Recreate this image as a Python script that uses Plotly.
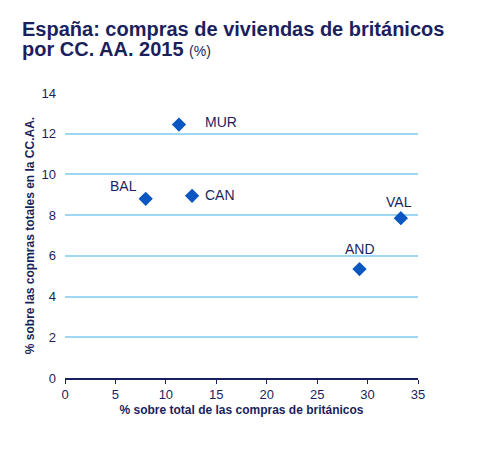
import plotly.graph_objects as go

regions = ["MUR", "BAL", "CAN", "VAL", "AND"]
share_british = [11.3, 8.0, 12.6, 33.3, 29.2]
share_region = [12.45, 8.8, 8.95, 7.85, 5.35]

# label placement per point (styles)
label_pos = {
    "MUR": dict(xshift=24, yshift=3, xanchor="left"),
    "BAL": dict(xshift=-7, yshift=13, xanchor="right"),
    "CAN": dict(xshift=11, yshift=1, xanchor="left"),
    "VAL": dict(xshift=-2, yshift=16, xanchor="center"),
    "AND": dict(xshift=0, yshift=20, xanchor="center"),
}

NAVY = "#1b1f5e"
# page has an 8px body margin, so the figure is offset by 8px
W, H = 474, 450
L, T = 57, 85
R = W - 410
B = H - 370
pw, ph = W - L - R, H - T - B

fig = go.Figure()
fig.add_trace(go.Scatter(
    x=share_british, y=share_region, mode="markers",
    marker=dict(symbol="diamond", size=11, color="#0a57c2"),
    hoverinfo="skip", showlegend=False,
))
for r, xv, yv in zip(regions, share_british, share_region):
    p = label_pos[r]
    fig.add_annotation(x=xv, y=yv, text=r, showarrow=False,
                       xshift=p["xshift"], yshift=p["yshift"], xanchor=p["xanchor"],
                       yanchor="middle",
                       font=dict(family="Liberation Sans, Arial", size=14, color=NAVY))

title_lines = [
    "<b>España: compras de viviendas de británicos</b>",
    "<b>por CC. AA. 2015 </b><span style='font-size:14px'>(%)</span>",
]
title_mid_y = [21, 41]
for txt, my in zip(title_lines, title_mid_y):
    fig.add_annotation(
        xref="paper", yref="paper",
        x=(12 - L) / pw, y=(H - B - my) / ph,
        xanchor="left", yanchor="middle", align="left", showarrow=False,
        text=txt,
        font=dict(size=20, color=NAVY, family="Liberation Sans, Arial"),
    )

fig.update_layout(
    width=W, height=H,
    margin=dict(l=L, r=R, t=T, b=B, autoexpand=False),
    paper_bgcolor="white", plot_bgcolor="white",
    font=dict(family="Liberation Sans, Arial", color=NAVY),
    xaxis=dict(
        range=[0, 35], dtick=5, tick0=0, automargin=False,
        showgrid=False, zeroline=False,
        showline=True, linecolor=NAVY, linewidth=1.5,
        ticks="outside", ticklen=4, tickcolor=NAVY, tickwidth=1,
        tickfont=dict(size=13, color=NAVY),
        title=dict(text="<b>% sobre total de las compras de británicos</b>",
                   font=dict(size=12, color=NAVY), standoff=4),
    ),
    yaxis=dict(
        range=[0, 14], dtick=2, tick0=0, automargin=False,
        showgrid=True, gridcolor="#9fd6f2", gridwidth=1.5,
        zeroline=False, showline=False,
        ticks="", ticklabelstandoff=8,
        tickfont=dict(size=13, color=NAVY),
        title=dict(text="<b>% sobre las copmras totales en la CC.AA.</b>",
                   font=dict(size=12, color=NAVY), standoff=4),
    ),
)

fig.write_html("out.html")
